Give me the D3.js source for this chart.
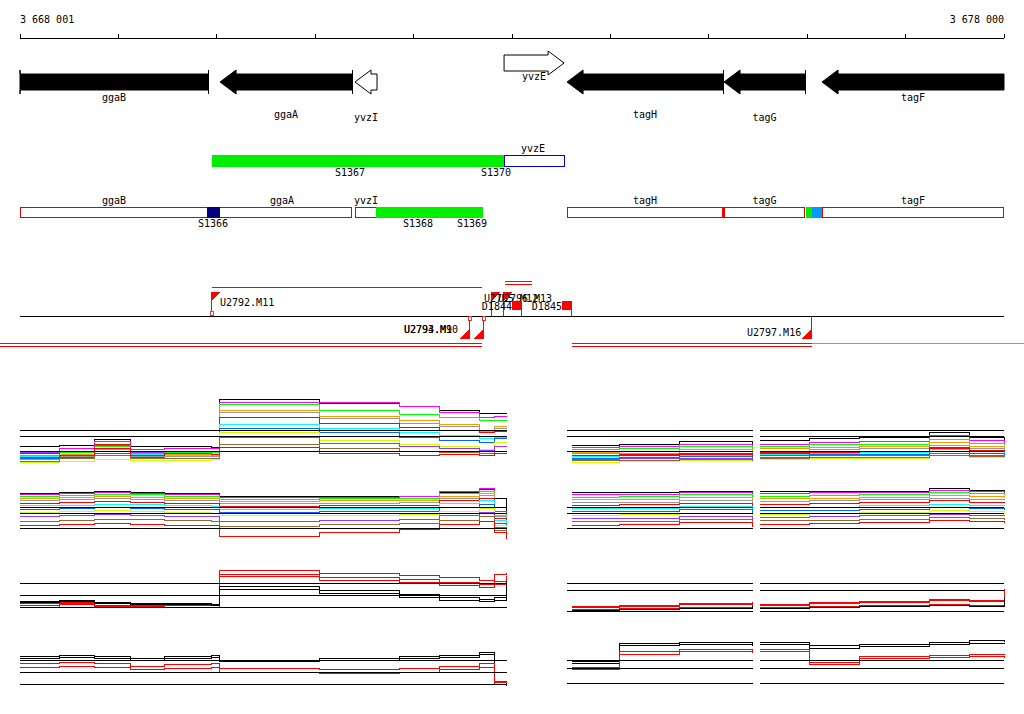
<!DOCTYPE html>
<html><head><meta charset="utf-8">
<script src="https://cdn.jsdelivr.net/npm/d3@7"></script>
<style>body{margin:0;background:#fff}text{font-family:"DejaVu Sans Mono",monospace;font-size:10px}path,line,rect{shape-rendering:crispEdges}</style>
</head><body><div id="chart"></div>
<script>
var width = 1024, height = 714;

// genome window
var startBp = 3668001, endBp = 3678000;
var tickBp = [3668001,3669001,3670001,3671001,3672001,3673001,3674001,3675001,3676001,3677001,3678000];

// genes: name, start, end, strand, filled, label row
var genes = [
  ["ggaB",3668001,3669912,-1,1,0],["ggaA",3670034,3671375,-1,1,1],["yvzI",3671405,3671629,-1,0,2],
  ["yvzE",3672920,3673530,1,0,-1],["tagH",3673560,3675145,-1,1,1],["tagG",3675155,3675978,-1,1,2],["tagF",3676151,3678000,-1,1,0]
];
// transcription segments
var segs2 = [["S1367",3669952,3672920,"#00ee00"]];
var segs3 = [["S1366",3669902,3670034,"#000080"],["S1368",3671620,3672705,"#00ee00"],["S1369",3672400,3672705,"#00ee00"],
  ["",3675988,3676100,"#00ee00"],["",3676050,3676151,"#0099ff"]];
var utrBoxes = [["ggaB",3668001,3669912],["ggaA",3669952,3671375],["yvzI",3671405,3671629],
  ["tagH",3673560,3675145],["tagG",3675155,3675978],["tagF",3676151,3678000]];
// features: name, pos, up(1)/down(0), labelDx, labelDy
var feats = [["U2792.M11",3669952,1,8,-14],["U2793.M9",3672573,0,-66,-6],["U2794.M10",3672715,0,-80,-6],
  ["U2795.M12",3672797,1,-8,-18],["U2796.M13",3672918,1,-6,-18]];
var boxes = [["D1844",3672999,-30],["D1845",3673507,-30]];

// profile breakpoints
var leftBp = [3668001,3668407,3668763,3669119,3669474,3669952,3670033,3671049,3671862,3672268,3672675,3672827,3672949];
var rightBp = [3673609,3674097,3674707,3675449,3675520,3676027,3676535,3677247,3677653,3678000];
var colors = ["#000000","#ff00ff","#00ff00","#ff9900","#999999","#ff0000","#00ffff","#0066ff","#ccff00","#9933ff","#996633","#ff0000"];

var p1L = [
 [2.6,2.8,3.6,2.6,2.6,2.5,9.3,8.8,8.4,7.8,7.3,7.3,7.3],[2.0,2.4,3.3,2.2,2.3,2.3,9.0,8.9,8.3,7.5,6.8,6.9,6.9],
 [1.4,1.8,2.6,1.7,1.8,1.8,8.6,7.8,7.2,6.8,6.3,6.3,6.3],[1.0,1.5,2.2,1.4,1.5,1.4,7.8,7.0,6.3,5.8,4.8,5.5,5.5],
 [0.8,1.2,1.9,1.2,1.2,1.2,7.5,6.6,6.0,5.5,5.0,5.2,5.2],[1.6,2.0,3.0,2.0,2.0,1.9,6.8,6.0,5.4,5.0,4.6,4.8,4.8],
 [1.2,1.4,2.0,1.5,1.3,1.3,5.8,5.2,4.6,4.2,3.8,4.0,4.0],[0.9,1.1,1.6,1.1,1.0,1.0,5.2,4.6,4.0,3.5,3.2,3.8,3.8],
 [0.3,0.5,0.8,0.6,0.6,0.8,4.6,3.5,3.0,2.6,2.2,3.2,3.2],[1.8,1.9,2.8,1.8,1.9,2.0,4.0,3.1,2.6,2.4,2.1,2.6,2.6],
 [0.5,0.9,1.3,0.9,0.9,1.0,3.0,2.4,2.0,1.8,1.6,2.0,2.0],[1.1,1.3,2.4,1.3,1.6,1.5,2.5,1.6,1.4,1.5,1.3,1.6,1.6]];
var p1R = [
 [2.8,3.0,3.4,2.9,3.5,3.8,4.0,4.6,4.0,3.6],[2.5,2.7,3.0,2.6,3.0,3.2,3.4,4.2,3.5,3.2],
 [2.2,2.4,2.6,2.3,2.7,2.9,3.0,3.6,3.1,2.9],[1.8,2.0,2.2,1.9,2.3,2.5,2.6,3.2,2.7,2.5],
 [1.6,1.7,1.9,1.6,2.0,2.2,2.3,2.8,2.4,2.2],[1.4,1.5,1.7,1.4,1.8,2.0,2.0,2.5,2.1,2.0],
 [1.2,1.3,1.4,1.2,1.5,1.7,1.8,2.2,1.9,1.7],[1.0,1.1,1.2,1.0,1.3,1.5,1.5,1.9,1.6,1.5],
 [0.4,0.5,0.6,0.5,0.8,1.0,1.0,1.3,1.1,1.0],[0.8,0.9,1.0,0.8,1.1,1.3,1.3,1.6,1.4,1.3],
 [0.6,0.7,0.8,0.6,0.9,1.1,1.1,1.4,1.2,1.1],[1.3,1.4,1.5,1.3,1.6,1.8,1.9,2.3,2.0,1.8]];
var p2L = [
 [8.5,8.6,8.8,8.7,8.5,8.4,7.9,7.9,8.0,8.6,9.1,7.5,3.6],[8.3,8.4,8.6,8.5,8.3,8.2,7.7,7.8,7.9,8.8,9.3,5.2,2.4],
 [8.0,8.1,8.3,8.2,8.0,7.9,7.4,7.5,7.6,8.4,8.9,4.8,2.0],[7.6,7.7,7.9,7.8,7.6,7.5,7.0,7.1,7.2,8.0,8.5,4.5,1.8],
 [7.2,7.3,7.5,7.4,7.2,7.1,6.6,6.7,6.8,7.6,8.1,4.2,1.5],[6.7,6.8,7.0,6.9,6.7,6.6,6.1,6.2,6.3,7.1,7.6,3.9,1.2],
 [6.2,6.3,6.5,6.4,6.2,6.1,5.6,5.7,5.8,6.6,7.1,3.5,1.0],[5.6,5.7,5.9,5.8,5.6,5.5,5.0,5.1,5.2,6.0,6.5,3.0,0.8],
 [5.0,5.1,5.3,5.2,5.0,4.9,4.4,4.5,4.6,5.2,5.8,2.6,0.6],[4.2,4.4,4.6,4.5,4.3,4.2,3.4,3.6,3.8,4.4,5.0,2.2,0.4],
 [3.4,3.6,3.8,3.7,3.5,3.4,2.4,2.8,3.0,3.6,4.2,1.8,0.3],[2.6,2.8,3.0,2.9,2.7,2.6,0.6,1.4,2.0,2.8,3.4,1.4,0.2]];
var p2R = [
 [8.6,8.7,8.8,8.6,8.9,8.8,8.9,9.3,9.0,8.8],[8.2,8.3,8.6,8.3,8.5,8.6,8.7,9.0,8.8,8.6],
 [7.8,7.9,8.2,7.8,8.0,8.1,8.3,8.6,8.4,8.2],[7.3,7.4,7.7,7.2,7.5,7.6,7.8,8.1,7.9,7.7],
 [6.8,6.9,7.2,6.6,7.0,7.1,7.3,7.6,7.4,7.2],[6.3,6.4,6.7,6.0,6.5,6.6,6.8,7.1,6.9,6.7],
 [5.7,5.8,6.1,5.4,5.9,6.0,6.2,6.5,6.3,6.1],[5.1,5.2,5.5,4.8,5.3,5.4,5.6,5.9,5.7,5.5],
 [4.5,4.6,4.9,4.2,4.7,4.8,5.0,5.3,5.1,4.9],[3.9,4.0,4.3,3.6,4.1,4.2,4.4,4.7,4.5,4.3],
 [3.3,3.4,3.7,3.0,3.5,3.6,3.8,4.1,3.9,3.7],[2.7,2.8,3.1,2.4,2.9,3.0,3.2,3.5,3.3,3.1]];
// averaged tracks: red and black
var p3L = [[2.4,2.6,2.3,2.2,2.2,2.2,9.0,8.4,8.0,7.6,7.0,8.2,8.4],[2.0,2.4,2.0,1.9,1.9,1.9,8.2,7.6,7.2,6.6,6.2,6.8,7.8],
 [1.6,2.2,1.8,1.7,1.6,1.6,7.8,7.0,6.6,6.0,5.6,6.2,7.2],[2.8,3.0,2.6,2.4,2.3,2.2,5.8,5.0,4.2,3.6,3.2,3.6,6.8],
 [2.6,2.8,2.4,2.2,2.1,2.0,5.2,4.4,3.6,3.0,2.8,3.0,6.6]];
var p3R = [[1.8,2.0,2.4,2.6,2.2,2.6,2.8,3.2,3.0,5.2],[1.6,1.8,2.2,2.4,2.0,2.4,2.6,3.0,2.8,4.8],
 [1.2,1.4,1.6,2.0,1.6,1.8,2.0,2.2,2.0,3.6],[1.0,1.2,1.4,1.8,1.4,1.6,1.8,2.0,1.8,3.4]];
var p4L = [[5.6,5.8,5.6,5.2,5.6,5.8,5.0,5.2,5.6,5.8,6.2,1.2,0.8],[5.2,5.5,5.3,5.0,5.3,5.5,4.7,4.9,5.3,5.5,5.9,1.0,0.6],
 [4.4,4.6,4.4,4.0,4.2,4.4,3.6,3.4,3.6,4.0,4.4,1.4,1.0],[3.8,4.0,3.8,3.4,3.6,3.8,3.0,2.8,3.0,3.4,3.8,1.2,0.8]];
var p4R = [[4.8,7.8,8.0,7.8,8.0,7.4,7.6,8.0,8.2,8.0],[4.4,7.4,7.6,7.4,7.6,7.0,7.2,7.6,7.8,7.6],
 [3.8,6.4,6.8,6.6,6.8,4.6,5.6,5.8,6.0,5.8],[3.4,6.0,6.4,6.2,6.4,4.2,5.2,5.4,5.6,5.4]];

var x = d3.scaleLinear().domain([startBp,endBp]).range([20,1004]);
var svg = d3.select("#chart").append("svg").attr("width",width).attr("height",height);

// ruler
svg.append("text").attr("x",20).attr("y",23).text("3 668 001");
svg.append("text").attr("x",1004).attr("y",23).attr("text-anchor","end").text("3 678 000");
svg.append("line").attr("x1",x(startBp)).attr("x2",x(endBp)).attr("y1",38).attr("y2",38).attr("stroke","#000");
svg.selectAll(".tk").data(tickBp).enter().append("line").attr("x1",x).attr("x2",x)
  .attr("y1",34).attr("y2",38).attr("stroke","#000");

// gene arrows
function arrowPath(a,b,strand,yc,h,head){
  var x0=x(a),x1=x(b),t=h/2,T=h/2+4;
  if(strand<0){ var xh=Math.min(x0+head,x1);
    return "M"+x1+","+(yc-t)+"L"+xh+","+(yc-t)+"L"+xh+","+(yc-T)+"L"+x0+","+yc+"L"+xh+","+(yc+T)+"L"+xh+","+(yc+t)+"L"+x1+","+(yc+t)+"Z";}
  var xh2=Math.max(x1-head,x0);
  return "M"+x0+","+(yc-t)+"L"+xh2+","+(yc-t)+"L"+xh2+","+(yc-T)+"L"+x1+","+yc+"L"+xh2+","+(yc+T)+"L"+xh2+","+(yc+t)+"L"+x0+","+(yc+t)+"Z";
}
genes.forEach(function(g){
  var yc = g[3]>0 ? 63 : 82;
  var head = g[0]=="ggaB" ? 0 : 16;
  svg.append("path").attr("d",arrowPath(g[1],g[2],g[3],yc,16,head))
    .attr("fill",g[4]?"#000":"#fff").attr("stroke","#000").style("shape-rendering","auto");
  var ly = g[3]>0 ? 80 : [101,118,121][g[5]];
  svg.append("text").attr("x",(x(g[1])+x(g[2]))/2).attr("y",ly).attr("text-anchor","middle").text(g[0]);
});
[3669912,3671375,3675145,3675978].forEach(function(b){
  svg.append("line").attr("x1",x(b)+0.5).attr("x2",x(b)+0.5).attr("y1",70).attr("y2",94).attr("stroke","#000");
});

// segment row 2
segs2.forEach(function(s){
  svg.append("rect").attr("x",x(s[1])).attr("y",155).attr("width",x(s[2])-x(s[1])).attr("height",12).attr("fill",s[3]);
});
svg.append("rect").attr("x",x(3672920)).attr("y",155.5).attr("width",x(3673530)-x(3672920)).attr("height",11).attr("fill","none").attr("stroke","#0000cc");
svg.append("text").attr("x",533).attr("y",152).attr("text-anchor","middle").text("yvzE");
svg.append("text").attr("x",350).attr("y",176).attr("text-anchor","middle").text("S1367");
svg.append("text").attr("x",496).attr("y",176).attr("text-anchor","middle").text("S1370");

// row 3
utrBoxes.forEach(function(b){
  svg.append("rect").attr("x",x(b[1])+0.5).attr("y",207.5).attr("width",x(b[2])-x(b[1])-1).attr("height",10)
    .attr("fill","#fff").attr("stroke","#dd0000");
  svg.append("text").attr("x",(x(b[1])+x(b[2]))/2).attr("y",204).attr("text-anchor","middle").text(b[0]);
});
segs3.forEach(function(s){
  svg.append("rect").attr("x",x(s[1])).attr("y",207).attr("width",x(s[2])-x(s[1])).attr("height",11).attr("fill",s[3]);
});
svg.append("line").attr("x1",x(3675145)).attr("x2",x(3675145)).attr("y1",207).attr("y2",218).attr("stroke","#ff0000").attr("stroke-width",2);
[["S1366",213],["S1368",418],["S1369",472]].forEach(function(l){
  svg.append("text").attr("x",l[1]).attr("y",227).attr("text-anchor","middle").text(l[0]);
});

// feature track
svg.append("line").attr("x1",20).attr("x2",1004).attr("y1",316).attr("y2",316).attr("stroke","#000");
svg.append("line").attr("x1",x(3669952)).attr("x2",x(3672700)).attr("y1",287).attr("y2",287).attr("stroke","#ff0000");
[281,284].forEach(function(y){svg.append("line").attr("x1",x(3672930)).attr("x2",x(3673200)).attr("y1",y).attr("y2",y).attr("stroke","#ff0000");});
[343,346].forEach(function(y){
  svg.append("line").attr("x1",0).attr("x2",x(3672700)).attr("y1",y).attr("y2",y).attr("stroke","#ff0000");
  svg.append("line").attr("x1",x(3673609)).attr("x2",x(3676048)).attr("y1",y).attr("y2",y).attr("stroke","#ff0000");
});
svg.append("line").attr("x1",x(3676048)).attr("x2",1024).attr("y1",343).attr("y2",343).attr("stroke","#ff6666");
feats.forEach(function(f){
  var xf=x(f[1]);
  if(f[2]){
    svg.append("line").attr("x1",xf).attr("x2",xf).attr("y1",292).attr("y2",316).attr("stroke","#ff0000");
    svg.append("path").attr("d","M"+xf+",292L"+(xf+9)+",292L"+xf+",301Z").attr("fill","#ff0000");
  } else {
    svg.append("line").attr("x1",xf).attr("x2",xf).attr("y1",316).attr("y2",339).attr("stroke","#ff0000");
    svg.append("path").attr("d","M"+xf+",339L"+(xf-10)+",339L"+xf+",329Z").attr("fill","#ff0000");
    svg.append("rect").attr("x",xf-1).attr("y",316).attr("width",3).attr("height",4).attr("fill","#fff").attr("stroke","#ff0000").attr("stroke-width",0.8);
  }
  svg.append("text").attr("x",xf+f[3]).attr("y",(f[2]?306:339)+f[4]+ (f[2]?14:0)).text(f[0]);
});
svg.append("rect").attr("x",x(3669952)-1.5).attr("y",311).attr("width",3).attr("height",4).attr("fill","#fff").attr("stroke","#ff0000").attr("stroke-width",0.8);
var feat16 = x(3676048);
svg.append("line").attr("x1",feat16).attr("x2",feat16).attr("y1",316).attr("y2",339).attr("stroke","#ff0000");
svg.append("path").attr("d","M"+feat16+",339L"+(feat16-10)+",339L"+feat16+",329Z").attr("fill","#ff0000");
svg.append("text").attr("x",747).attr("y",336).text("U2797.M16");
boxes.forEach(function(b){
  var xb=x(b[1]);
  svg.append("rect").attr("x",xb).attr("y",301).attr("width",10).attr("height",9).attr("fill","#ff0000");
  svg.append("line").attr("x1",xb+10).attr("x2",xb+10).attr("y1",301).attr("y2",316).attr("stroke","#ff0000");
  svg.append("text").attr("x",xb+b[2]).attr("y",310).text(b[0]);
});

// profile panels
function panel(seriesL, seriesR, cols, y0, y1, refL, refR, lw){
  var y = d3.scaleLinear().domain([0,10]).range([y1,y0]);
  var line = d3.line().curve(d3.curveStepAfter).x(function(d){return x(d[0]);}).y(function(d){return y(d[1]);});
  [[seriesL,leftBp],[seriesR,rightBp]].forEach(function(p){
    p[0].forEach(function(s,i){
      svg.append("path").datum(s.map(function(v,j){return [p[1][j],v];}))
        .attr("d",line).attr("fill","none").attr("stroke",cols[i%cols.length]).attr("stroke-width",lw);
    });
  });
  refL.forEach(function(r){svg.append("line").attr("x1",20).attr("x2",x(3672949)).attr("y1",r).attr("y2",r).attr("stroke","#000");});
  refR.forEach(function(r){svg.append("line").attr("x1",x(3673609)-5).attr("x2",1004).attr("y1",r).attr("y2",r).attr("stroke","#000");});
  svg.append("rect").attr("x",x(3675449)).attr("y",y0-5).attr("width",x(3675520)-x(3675449)).attr("height",y1-y0+10).attr("fill","#fff");
}
panel(p1L,p1R,colors,395,465,[430,436,451],[430,436,451],1);
panel(p2L,p2R,colors,485,540,[507,513,528],[507,513,528],1);
var rb=["#ff0000","#ff0000","#ff0000","#000000","#000000"];
panel(p3L,p3R,rb,565,615,[583,595,607],[583,590,611],1);
var rb4=["#000000","#000000","#ff0000","#ff0000"];
panel(p4L,p4R,rb4,630,690,[660,672,684],[660,668,683],1);
</script></body></html>
